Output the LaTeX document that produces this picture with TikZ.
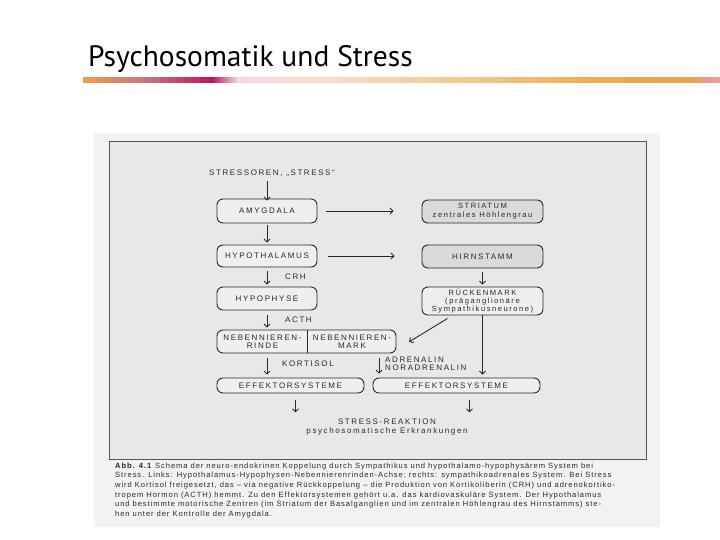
\documentclass[tikz,border=0pt]{standalone}
\usepackage{fontspec}
\usetikzlibrary{arrows.meta,calc}
\newfontfamily\titlefont{PT Sans}
\newfontfamily\scanfont[LetterSpace=20]{Liberation Sans}
\newfontfamily\capfont[LetterSpace=12]{Liberation Sans}
\definecolor{ink}{HTML}{2A2A2A}
\definecolor{paper}{HTML}{F2F2F0}
\definecolor{scan}{HTML}{E8E8E6}
\definecolor{boxfill}{HTML}{EFEFED}
\definecolor{grayfill}{HTML}{DADAD8}
\tikzset{
  flowbox/.style={draw=ink, line width=0.9pt, rounded corners=6pt, fill=boxfill, inner sep=0pt, align=center, font=\scanfont\fontsize{8}{9}\selectfont, text=ink},
  grbox/.style={flowbox, fill=grayfill},
  lbl/.style={font=\scanfont\fontsize{8}{8}\selectfont, text=ink, inner sep=0pt, align=left},
  arr/.style={draw=ink, line width=0.9pt, -{Straight Barb[length=3pt,width=6pt]}},
}
\begin{document}
\begin{tikzpicture}[x=1pt,y=-1pt]
\useasboundingbox (0,0) rectangle (720,540);
\fill[white] (0,0) rectangle (720,540);
% title
\node[anchor=base west, inner sep=0pt, font=\titlefont\fontsize{29.5}{32}\selectfont, text=black] (title) at (88,67) {Psychosomatik und Stress};
% gradient rule
\shade[left color={rgb,255:red,233;green,160;blue,79}, right color={rgb,255:red,200;green,112;blue,128}] (83,78) rectangle (150,83);
\shade[left color={rgb,255:red,200;green,112;blue,128}, right color={rgb,255:red,192;green,20;blue,90}] (150,78) rectangle (212,83);
\shade[left color={rgb,255:red,192;green,20;blue,90}, right color={rgb,255:red,248;green,216;blue,224}] (212,78) rectangle (238,83);
\shade[left color={rgb,255:red,248;green,216;blue,224}, right color={rgb,255:red,251;green,222;blue,200}] (238,78) rectangle (330,83);
\shade[left color={rgb,255:red,251;green,222;blue,200}, right color={rgb,255:red,240;green,168;blue,72}] (330,78) rectangle (620,83);
\shade[left color={rgb,255:red,240;green,168;blue,72}, right color={rgb,255:red,240;green,160;blue,80}] (620,78) rectangle (690,83);
\shade[left color={rgb,255:red,240;green,160;blue,80}, right color={rgb,255:red,240;green,152;blue,176}] (690,78) rectangle (720,83);
% scan panel
\fill[paper] (94,133) rectangle (660,527);
\draw[draw=ink!80, fill=scan, line width=0.9pt] (109,141) rectangle (646,459);
% nodes
\node[lbl, anchor=center] (stress) at (272,173) {STRESSOREN, „STRESS“};
\node[flowbox, minimum width=100pt, minimum height=24pt] (amy) at (267,211) {AMYGDALA};
\node[flowbox, minimum width=100pt, minimum height=22pt] (hypo) at (267,256) {HYPOTHALAMUS};
\node[flowbox, minimum width=100pt, minimum height=23pt] (hyp) at (267,298.5) {HYPOPHYSE};
\node[flowbox, minimum width=179pt, minimum height=23pt] (neb) at (306.5,341.5) {};
\draw[ink, line width=0.9pt] (307,330) -- (307,353);
\node[lbl, align=center, font=\scanfont\fontsize{8}{8.4}\selectfont] (nnr) at (262.5,341.5) {NEBENNIEREN-\\RINDE};
\node[lbl, align=center, font=\scanfont\fontsize{8}{8.4}\selectfont] (nnm) at (352,341.5) {NEBENNIEREN-\\MARK};
\node[flowbox, minimum width=147pt, minimum height=15pt] (effl) at (290.5,385.5) {EFFEKTORSYSTEME};
\node[flowbox, minimum width=167pt, minimum height=15pt] (effr) at (456.5,385.5) {EFFEKTORSYSTEME};
\node[grbox, minimum width=121pt, minimum height=23pt, font=\scanfont\fontsize{7.6}{9}\selectfont] (stri) at (482.5,211.5) {STRIATUM\\zentrales Höhlengrau};
\node[grbox, minimum width=121pt, minimum height=23pt] (hirn) at (482.5,256.5) {HIRNSTAMM};
\node[flowbox, minimum width=121pt, minimum height=28pt, font=\scanfont\fontsize{7.6}{8}\selectfont] (rm) at (482.5,301) {RÜCKENMARK\\(präganglionäre\\Sympathikusneurone)};
\node[lbl, align=center, font=\scanfont\fontsize{8}{8.4}\selectfont] (reakt) at (387,427) {STRESS-REAKTION\\psychosomatische Erkrankungen};
% labels
\node[lbl, anchor=west] (crh) at (285,277) {CRH};
\node[lbl, anchor=west] (acth) at (285,320) {ACTH};
\node[lbl, anchor=west] (kort) at (282,364) {KORTISOL};
\node[lbl, anchor=west] (adr) at (385,364) {ADRENALIN\\NORADRENALIN};
% connectors
\draw[arr] (stress.south -| amy.north) ++(0,4) -- ([yshift=-2pt]amy.north);
\draw[arr, shorten >=2pt, shorten <=2pt] (amy) -- (hypo);
\draw[arr, shorten >=2pt, shorten <=4pt] (hypo) -- (hyp);
\draw[arr, shorten >=2pt, shorten <=5pt] (hyp) -- (hyp |- neb.north);
\draw[arr, shorten >=3pt, shorten <=5pt] (hyp |- neb.south) -- (hyp |- effl.north);
\draw[arr, shorten >=4pt, shorten <=5pt] (neb.south -| adr.west) ++(-6,0) coordinate (ad1) -- (ad1 |- effr.north);
\draw[arr, shorten <=9pt, shorten >=28pt] (amy) -- (amy -| stri.west);
\draw[arr, shorten <=11pt, shorten >=27pt] (hypo.east) -- (hypo.east -| hirn.west);
\draw[arr, shorten >=2pt, shorten <=4pt] (hirn) -- (rm);
\draw[arr, shorten >=3pt] ($(rm.south)+(-35,3)$) -- ($(neb.east)+(10,2)$);
\draw[arr, shorten >=3pt] (rm.south) -- (rm.south |- effr.north);
\draw[arr] ($(effl.south)+(5,7)$) -- ($(effl.south)+(5,19)$);
\draw[arr] ($(effr.south)+(13,7)$) -- ($(effr.south)+(13,19)$);
% caption
\node[anchor=north west, inner sep=0pt, align=left, text=ink, font=\capfont\fontsize{7.6}{9.6}\selectfont] (cap) at (115,462.5) {%
\textbf{Abb. 4.1} Schema der neuro-endokrinen Koppelung durch Sympathikus und hypothalamo-hypophysärem System bei\\
Stress. Links: Hypothalamus-Hypophysen-Nebennierenrinden-Achse; rechts: sympathikoadrenales System. Bei Stress\\
wird Kortisol freigesetzt, das – via negative Rückkoppelung – die Produktion von Kortikoliberin (CRH) und adrenokortiko-\\
tropem Hormon (ACTH) hemmt. Zu den Effektorsystemen gehört u.a. das kardiovaskuläre System. Der Hypothalamus\\
und bestimmte motorische Zentren (im Striatum der Basalganglien und im zentralen Höhlengrau des Hirnstamms) ste-\\
hen unter der Kontrolle der Amygdala.};
\end{tikzpicture}
\end{document}
